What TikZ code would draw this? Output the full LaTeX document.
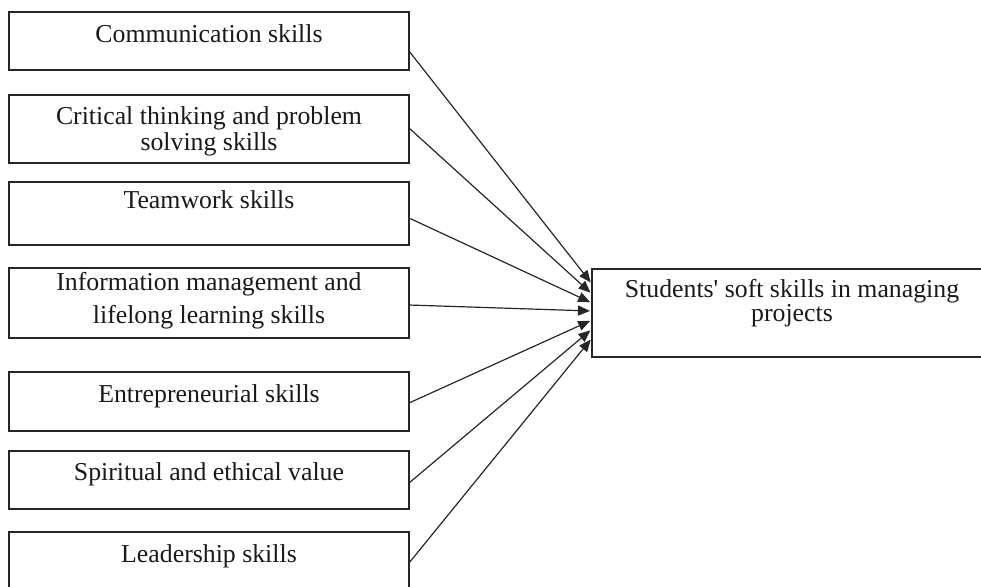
\documentclass[tikz,border=0pt]{standalone}
\usepackage{fontspec}
\setmainfont{Liberation Serif}
\newfontfamily\plainserif{Liberation Serif}
\usetikzlibrary{arrows.meta}
\begin{document}
\begin{tikzpicture}[x=0.5pt,y=-0.5pt,
  box/.style={draw=black!85, line width=0.75pt, rectangle, inner sep=0pt, outer sep=0pt, minimum width=200pt},
  lbl/.style={anchor=base, inner sep=0pt, text=black!90, font=\fontsize{12.9}{14}\selectfont},
  conn/.style={draw=black!85, line width=0.6pt, -{Triangle[length=6pt,width=5pt]}, shorten >=1pt}]
\useasboundingbox (0,0) rectangle (981,586);
\clip (0,0) rectangle (981,586);
% left boxes
\node[box, minimum height=29pt]   (b1) at (209,41)    {};
\node[box, minimum height=34pt]   (b2) at (209,129)   {};
\node[box, minimum height=31.5pt] (b3) at (209,213.5) {};
\node[box, minimum height=35pt]   (b4) at (209,303)   {};
\node[box, minimum height=29.5pt] (b5) at (209,401.5) {};
\node[box, minimum height=29pt]   (b6) at (209,480)   {};
\node[box, minimum height=31pt]   (b7) at (209,563)   {};
% target box
\node[box, minimum height=44pt] (tg) at (792,313) {};
% texts
\node[lbl] (t1)  at (209,42)  {Communication skills};
\node[lbl] (t2a) at (209,124) {Critical thinking and problem};
\node[lbl] (t2b) at (209,150) {solving skills};
\node[lbl] (t3)  at (209,208) {Teamwork skills};
\node[lbl] (t4a) at (209,290) {Information management and};
\node[lbl] (t4b) at (209,323) {lifelong learning skills};
\node[lbl] (t5)  at (209,402) {Entrepreneurial skills};
\node[lbl] (t6)  at (209,480) {Spiritual and ethical value};
\node[lbl] (t7)  at (209,562) {Leadership skills};
\node[lbl] (tga) at (792,297) {Students{\plainserif '} soft skills in managing};
\node[lbl] (tgb) at (792,321) {projects};
% connectors
\draw[conn] ([yshift=-5pt]b1.east)   -- ([yshift=14.5pt]tg.west);
\draw[conn] ([yshift=0.5pt]b2.east)  -- ([yshift=9.5pt]tg.west);
\draw[conn] ([yshift=-2.25pt]b3.east) -- ([yshift=5pt]tg.west);
\draw[conn] ([yshift=-1pt]b4.east)   -- ([yshift=1pt]tg.west);
\draw[conn] ([yshift=-0.75pt]b5.east) -- ([yshift=-3.5pt]tg.west);
\draw[conn] ([yshift=-1.5pt]b6.east) -- ([yshift=-8pt]tg.west);
\draw[conn] (b7.east)                -- ([yshift=-12.5pt]tg.west);
\end{tikzpicture}
\end{document}
